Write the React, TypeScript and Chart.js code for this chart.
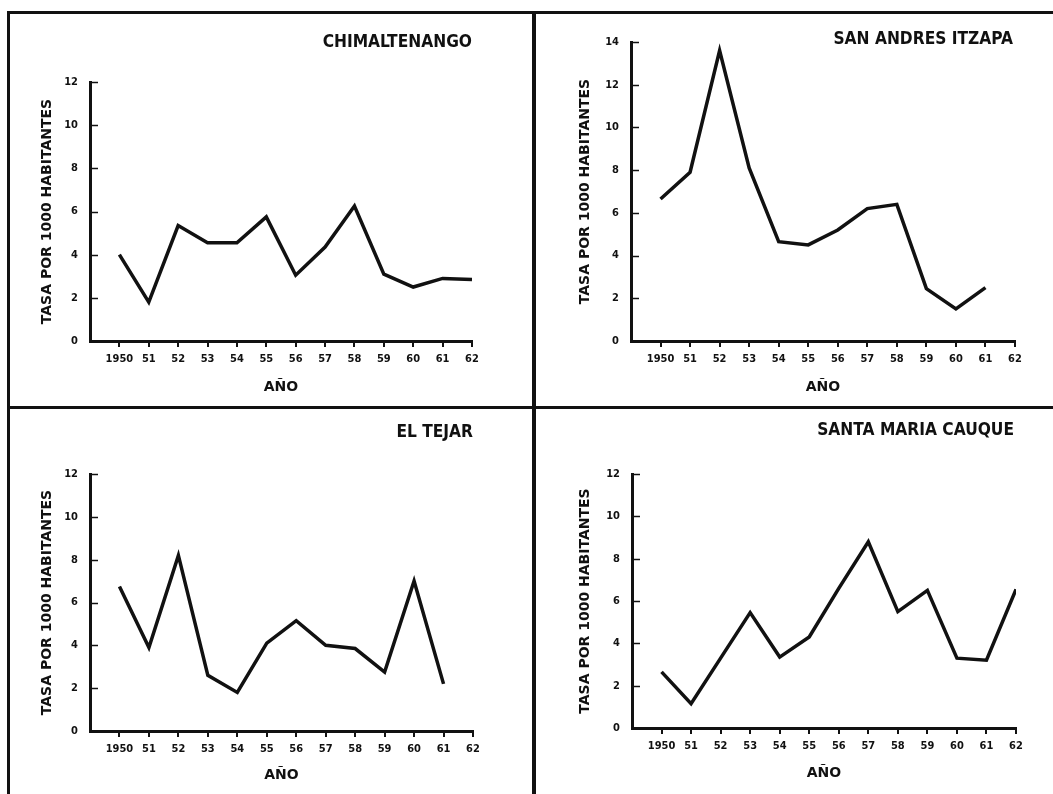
import React, { useEffect, useRef } from 'react';
import { Chart, registerables } from 'chart.js';

Chart.register(...registerables);

// ---------- data ----------
const years = [1950, 1951, 1952, 1953, 1954, 1955, 1956, 1957, 1958, 1959, 1960, 1961, 1962];
const yearTickLabels = ['1950', '51', '52', '53', '54', '55', '56', '57', '58', '59', '60', '61', '62'];

const chimaltenango = [4.0, 1.8, 5.35, 4.55, 4.55, 5.75, 3.05, 4.35, 6.25, 3.1, 2.5, 2.9, 2.85];
const sanAndresItzapa = [6.65, 7.9, 13.6, 8.1, 4.65, 4.5, 5.2, 6.2, 6.4, 2.45, 1.5, 2.5, null];
const elTejar = [6.75, 3.9, 8.2, 2.6, 1.8, 4.1, 5.15, 4.0, 3.85, 2.75, 7.0, 2.2, null];
const santaMariaCauque = [2.65, 1.15, 3.3, 5.45, 3.35, 4.3, 6.6, 8.8, 5.5, 6.5, 3.3, 3.2, 6.55];

const panelTitles = ['CHIMALTENANGO', 'SAN ANDRES ITZAPA', 'EL TEJAR', 'SANTA MARIA CAUQUE'];
const panelSeries = [chimaltenango, sanAndresItzapa, elTejar, santaMariaCauque];
const panelYMax = [12, 14, 12, 12];
const yAxisTitle = 'TASA POR 1000 HABITANTES';
const xAxisTitle = 'AÑO';

// ---------- layout (page coordinates) ----------
type Rect = { l: number; t: number; r: number; b: number };
type Layout = {
  canvas: Rect;
  area: Rect;
  title: { x: number; y: number };
  yTitleX: number;
  xTitleY: number;
};

const layouts: Layout[] = [
  { canvas: { l: 12, t: 15, r: 530, b: 405 }, area: { l: 90, t: 82, r: 472, b: 341 }, title: { x: 472, y: 42 }, yTitleX: 47, xTitleY: 387 },
  { canvas: { l: 537, t: 15, r: 1051, b: 405 }, area: { l: 631, t: 42, r: 1015, b: 341 }, title: { x: 1013, y: 39 }, yTitleX: 585, xTitleY: 387 },
  { canvas: { l: 12, t: 410, r: 530, b: 792 }, area: { l: 90, t: 474, r: 473, b: 731 }, title: { x: 473, y: 432 }, yTitleX: 47, xTitleY: 775 },
  { canvas: { l: 537, t: 410, r: 1051, b: 792 }, area: { l: 632, t: 474, r: 1016, b: 728 }, title: { x: 1014, y: 430 }, yTitleX: 585, xTitleY: 773 },
];

const NARROW = "'Liberation Sans Narrow', 'DejaVu Sans Condensed', 'Roboto Condensed', 'Liberation Sans', sans-serif";
const WIDE = "'DejaVu Sans', 'Liberation Sans', sans-serif";
const INK = '#111';
const AXIS_FONT = 14;

function Panel({ index }: { index: number }) {
  const ref = useRef<HTMLCanvasElement | null>(null);
  const lay = layouts[index];
  const cw = lay.canvas.r - lay.canvas.l;
  const ch = lay.canvas.b - lay.canvas.t;

  useEffect(() => {
    if (!ref.current) return;
    const lh = AXIS_FONT * 1.2;
    const yWidth = lay.area.l - lay.canvas.l;
    const xHeight = lay.canvas.b - lay.area.b;
    const padTop = lay.area.t - lay.canvas.t;
    const padRight = lay.canvas.r - lay.area.r;
    const yTitlePad = lay.yTitleX - lay.canvas.l - lh / 2;
    const xTitlePad = lay.canvas.b - lay.xTitleY - lh / 2;

    const titlePlugin = {
      id: 'panelTitle',
      afterDraw(chart: any) {
        const ctx = chart.ctx;
        ctx.save();
        ctx.font = `bold 18.5px ${NARROW}`;
        ctx.fillStyle = INK;
        ctx.textAlign = 'right';
        ctx.textBaseline = 'middle';
        ctx.translate(lay.title.x - lay.canvas.l, lay.title.y - lay.canvas.t);
        ctx.scale(0.93, 1);
        ctx.fillText(panelTitles[index], 0, 0);
        ctx.restore();
      },
    };

    const yTickPlugin = {
      id: 'inwardYTicks',
      afterDraw(chart: any) {
        const ctx = chart.ctx;
        const ys = chart.scales.y;
        const left = chart.chartArea.left;
        ctx.save();
        ctx.strokeStyle = INK;
        ctx.lineWidth = 1.5;
        ys.ticks.forEach((t: any) => {
          const py = Math.round(ys.getPixelForValue(t.value)) + 0.5;
          ctx.beginPath();
          ctx.moveTo(left, py);
          ctx.lineTo(left + 8, py);
          ctx.stroke();
        });
        ctx.restore();
      },
    };

    const data = panelSeries[index].map((v, i) => ({ x: years[i], y: v }));

    const chart = new Chart(ref.current, {
      type: 'line',
      data: {
        datasets: [
          {
            data: data as any,
            borderColor: INK,
            borderWidth: 3.5,
            pointRadius: 0,
            tension: 0,
            spanGaps: false,
            borderJoinStyle: 'miter',
          },
        ],
      },
      options: {
        animation: false,
        responsive: false,
        maintainAspectRatio: false,
        events: [],
        layout: { padding: { top: padTop, right: padRight, left: 0, bottom: 0 } },
        plugins: {
          legend: { display: false },
          tooltip: { enabled: false },
          title: { display: false },
        },
        scales: {
          x: {
            type: 'linear',
            min: years[0] - 1,
            max: years[years.length - 1],
            afterBuildTicks: (scale: any) => {
              scale.ticks = years.map((y) => ({ value: y }));
            },
            afterFit: (scale: any) => {
              scale.height = xHeight;
              scale.paddingLeft = 0;
              scale.paddingRight = 0;
            },
            ticks: {
              autoSkip: false,
              maxRotation: 0,
              padding: 6,
              color: INK,
              font: { family: NARROW, size: 11, weight: 'bold' },
              callback: (value: any) => {
                const i = years.indexOf(Number(value));
                return i >= 0 ? yearTickLabels[i] : '';
              },
            },
            grid: {
              display: true,
              drawOnChartArea: false,
              drawTicks: true,
              tickLength: 6,
              color: INK,
              lineWidth: 2,
            },
            border: { display: true, color: INK, width: 3 },
            title: {
              display: true,
              text: xAxisTitle,
              color: INK,
              font: { family: WIDE, size: AXIS_FONT, weight: 'bold' },
              padding: { top: 0, bottom: xTitlePad },
            },
          },
          y: {
            type: 'linear',
            min: 0,
            max: panelYMax[index],
            afterFit: (scale: any) => {
              scale.width = yWidth;
              scale.paddingTop = 0;
              scale.paddingBottom = 0;
            },
            ticks: {
              stepSize: 2,
              padding: 4,
              color: INK,
              font: { family: NARROW, size: 11, weight: 'bold' },
            },
            grid: { display: false },
            border: { display: true, color: INK, width: 3 },
            title: {
              display: true,
              text: yAxisTitle,
              color: INK,
              font: { family: WIDE, size: AXIS_FONT, weight: 'bold' },
              padding: { top: yTitlePad, bottom: 0 },
            },
          },
        },
      },
      plugins: [titlePlugin, yTickPlugin],
    });
    return () => chart.destroy();
  }, [index]);

  return (
    <canvas
      ref={ref}
      width={cw}
      height={ch}
      style={{ position: 'absolute', left: lay.canvas.l, top: lay.canvas.t, width: cw, height: ch }}
    />
  );
}

export default function App() {
  const line = (l: number, t: number, w: number, h: number) => (
    <div style={{ position: 'absolute', left: l, top: t, width: w, height: h, background: INK }} />
  );
  return (
    <div style={{ position: 'fixed', left: 0, top: 0, width: 1053, height: 794, background: '#fff', overflow: 'hidden' }}>
      {line(7, 11, 1046, 3)}
      {line(7, 11, 3, 783)}
      {line(532, 11, 4, 783)}
      {line(7, 406, 1046, 3)}
      {[0, 1, 2, 3].map((i) => (
        <Panel key={i} index={i} />
      ))}
    </div>
  );
}
